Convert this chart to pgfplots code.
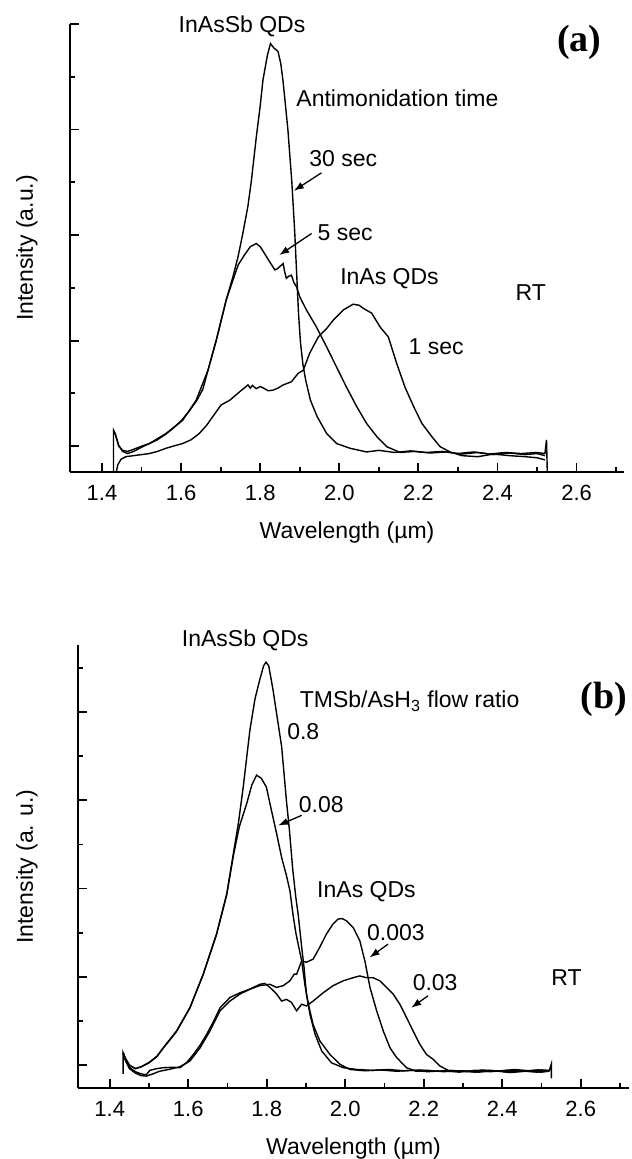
\documentclass[border=0pt]{standalone}
\usepackage{fontspec}
\setmainfont{Liberation Sans}
\newfontfamily\panelfont{Liberation Serif}
\usepackage{pgfplots}
\pgfplotsset{compat=1.18}
\usetikzlibrary{arrows.meta}

\pgfplotsset{
  pl/.style={
    scale only axis, axis lines=left, axis line style={-, line width=1.1pt},
    tick align=inside, tick style={black, line width=0.9pt},
    major tick length=4.6pt, minor tick length=2.6pt,
    xtick={1.4,1.6,1.8,2.0,2.2,2.4,2.6},
    xticklabels={1.4,1.6,1.8,2.0,2.2,2.4,2.6},
    minor xtick={1.5,1.7,1.9,2.1,2.3,2.5,2.7},
    ytick={0,2,4,6,8}, yticklabels={},
    xmin=1.319, clip=false,
    tick label style={font=\fontsize{11}{13}\selectfont},
    xticklabel style={yshift=-3pt},
    label style={font=\fontsize{11.5}{13}\selectfont},
    xlabel={Wavelength (µm)},
    xlabel style={at={(axis description cs:0.5,0)}, anchor=base, yshift=-33pt},
    every axis plot post/.append style={black, line width=0.7pt, mark=none},
  },
}
\tikzset{
  lab/.style={font=\fontsize{11.5}{13}\selectfont, text height=8.2pt, text depth=0pt, inner sep=0pt},
  arr/.style={-{Latex[length=5pt,width=3.6pt]}, line width=0.65pt},
}

\begin{document}
\begin{tikzpicture}
\useasboundingbox (0,0) rectangle (315.5pt,-579.5pt);

% (a) antimonidation time
\begin{axis}[pl, at={(35pt,-236pt)}, anchor=south west,
    width=277pt, height=224pt, xmax=2.72, ymin=-0.49, ymax=8,
    minor ytick={1,3,5,7},
    ylabel={Intensity (a.u.)},
    ylabel style={at={(axis description cs:-0.0668,0.5)}, anchor=base}]
  % 30 sec
  \addplot table {
    1.429 -0.49
    1.429 0.30
    1.434 0.22
    1.442 0.02
    1.452 -0.10
    1.465 -0.14
    1.48 -0.10
    1.50 -0.02
    1.52 0.05
    1.54 0.12
    1.56 0.22
    1.58 0.34
    1.60 0.48
    1.62 0.66
    1.64 0.87
    1.655 1.08
    1.668 1.44
    1.689 2.01
    1.714 2.77
    1.731 3.21
    1.744 3.59
    1.756 4.03
    1.769 4.55
    1.778 5.05
    1.790 5.85
    1.800 6.45
    1.807 6.94
    1.818 7.40
    1.826 7.63
    1.834 7.55
    1.845 7.48
    1.852 7.25
    1.858 6.90
    1.870 6.00
    1.880 5.00
    1.887 4.10
    1.892 3.30
    1.897 2.50
    1.902 1.95
    1.908 1.55
    1.915 1.25
    1.927 0.87
    1.944 0.56
    1.968 0.24
    1.993 0.05
    2.027 -0.04
    2.069 -0.11
    2.10 -0.08
    2.14 -0.12
    2.18 -0.09
    2.22 -0.12
    2.26 -0.10
    2.30 -0.14
    2.34 -0.11
    2.38 -0.15
    2.42 -0.12
    2.46 -0.14
    2.50 -0.12
    2.52 -0.14
    2.524 0.12
    2.526 -0.49
  };
  % 5 sec
  \addplot table {
    1.429 0.30
    1.434 0.22
    1.442 0.00
    1.452 -0.08
    1.465 -0.10
    1.48 -0.06
    1.50 0.00
    1.52 0.05
    1.562 0.24
    1.604 0.49
    1.638 0.87
    1.668 1.44
    1.689 2.01
    1.714 2.77
    1.744 3.43
    1.760 3.62
    1.775 3.78
    1.790 3.84
    1.800 3.78
    1.811 3.65
    1.825 3.48
    1.837 3.34
    1.843 3.36
    1.849 3.40
    1.858 3.46
    1.862 3.30
    1.866 3.18
    1.872 3.22
    1.879 3.24
    1.885 3.10
    1.892 3.02
    1.900 2.83
    1.917 2.58
    1.942 2.26
    1.968 1.88
    1.993 1.50
    2.018 1.12
    2.044 0.75
    2.069 0.43
    2.095 0.18
    2.12 -0.01
    2.154 -0.12
    2.19 -0.10
    2.23 -0.13
    2.27 -0.11
    2.31 -0.15
    2.35 -0.12
    2.39 -0.16
    2.43 -0.13
    2.47 -0.16
    2.50 -0.14
    2.52 -0.18
  };
  % 1 sec
  \addplot table {
    1.436 -0.49
    1.440 -0.35
    1.448 -0.25
    1.46 -0.20
    1.48 -0.18
    1.50 -0.16
    1.52 -0.14
    1.54 -0.10
    1.562 -0.04
    1.58 0.00
    1.604 0.05
    1.625 0.12
    1.646 0.24
    1.665 0.40
    1.680 0.56
    1.701 0.78
    1.723 0.87
    1.748 1.03
    1.769 1.16
    1.775 1.10
    1.780 1.15
    1.790 1.09
    1.800 1.13
    1.811 1.09
    1.820 1.05
    1.832 1.06
    1.845 1.10
    1.858 1.16
    1.879 1.22
    1.896 1.38
    1.909 1.44
    1.925 1.76
    1.947 2.07
    1.968 2.23
    1.985 2.39
    2.010 2.58
    2.035 2.69
    2.050 2.67
    2.061 2.61
    2.082 2.52
    2.103 2.26
    2.124 2.07
    2.145 1.57
    2.166 1.12
    2.188 0.75
    2.209 0.43
    2.234 0.18
    2.255 -0.01
    2.28 -0.11
    2.31 -0.18
    2.35 -0.20
    2.39 -0.15
    2.43 -0.18
    2.47 -0.20
    2.50 -0.22
    2.52 -0.26
  };
  \node[lab] at (axis cs:1.754,8.0) {InAsSb QDs};
  \node[lab] at (axis cs:2.147,6.59) {Antimonidation time};
  \node[lab] at (axis cs:2.010,5.45) {30 sec};
  \node[lab] at (axis cs:2.015,4.05) {5 sec};
  \node[lab] at (axis cs:2.127,3.21) {InAs QDs};
  \node[lab] at (axis cs:2.484,2.92) {RT};
  \node[lab] at (axis cs:2.245,1.90) {1 sec};
  \node[font=\panelfont\bfseries\fontsize{19}{21}\selectfont, inner sep=0pt] at (axis cs:2.607,7.65) {(a)};
  \draw[arr] (axis cs:1.955,5.18) -- (axis cs:1.885,4.84);
  \draw[arr] (axis cs:1.930,4.03) -- (axis cs:1.848,3.62);
\end{axis}

% (b) TMSb/AsH3 flow ratio
\begin{axis}[pl, at={(39pt,-544pt)}, anchor=south west,
    width=275.5pt, height=221.5pt, xmax=2.723, ymin=-0.52, ymax=9.52,
    minor ytick={1,3,5,7,9},
    ylabel={Intensity (a. u.)},
    ylabel style={at={(axis description cs:-0.0817,0.5)}, anchor=base}]
  % 0.8
  \addplot table {
    1.434 -0.20
    1.434 0.28
    1.440 0.15
    1.450 0.00
    1.465 -0.08
    1.48 -0.04
    1.50 0.06
    1.52 0.20
    1.536 0.39
    1.570 0.77
    1.604 1.30
    1.638 2.06
    1.672 2.97
    1.698 3.88
    1.715 4.80
    1.728 5.50
    1.740 6.30
    1.757 7.59
    1.770 8.30
    1.782 8.73
    1.792 9.05
    1.798 9.13
    1.805 9.05
    1.816 8.50
    1.825 7.97
    1.838 7.21
    1.850 6.00
    1.858 5.30
    1.866 4.45
    1.874 3.80
    1.880 3.42
    1.889 2.67
    1.895 2.21
    1.901 1.61
    1.910 1.15
    1.923 0.70
    1.940 0.32
    1.965 0.05
    1.995 -0.06
    2.03 -0.10
    2.07 -0.12
    2.11 -0.10
    2.15 -0.13
    2.19 -0.11
    2.23 -0.14
    2.27 -0.12
    2.31 -0.15
    2.35 -0.11
    2.39 -0.14
    2.43 -0.10
    2.47 -0.13
    2.50 -0.11
    2.52 -0.12
    2.525 0.02
    2.525 -0.30
  };
  % 0.08
  \addplot table {
    1.434 0.28
    1.440 0.15
    1.450 0.00
    1.465 -0.08
    1.48 -0.04
    1.50 0.05
    1.52 0.19
    1.536 0.38
    1.570 0.76
    1.604 1.29
    1.638 2.05
    1.672 2.96
    1.698 3.86
    1.715 4.75
    1.730 5.40
    1.749 5.93
    1.762 6.35
    1.774 6.57
    1.786 6.50
    1.799 6.30
    1.812 5.77
    1.825 5.25
    1.838 4.70
    1.850 4.30
    1.859 3.95
    1.867 3.40
    1.874 3.00
    1.880 2.74
    1.889 2.36
    1.897 1.83
    1.906 1.38
    1.918 0.92
    1.935 0.55
    1.961 0.24
    1.986 0.02
    2.012 -0.10
    2.05 -0.13
    2.09 -0.11
    2.13 -0.14
    2.17 -0.12
    2.21 -0.15
    2.25 -0.13
    2.29 -0.16
    2.33 -0.12
    2.37 -0.15
    2.41 -0.12
    2.45 -0.14
    2.49 -0.11
    2.52 -0.14
  };
  % 0.003
  \addplot table {
    1.434 0.28
    1.440 0.12
    1.450 -0.05
    1.465 -0.15
    1.480 -0.20
    1.493 -0.22
    1.502 -0.12
    1.52 -0.08
    1.536 -0.06
    1.56 -0.05
    1.579 -0.06
    1.595 0.05
    1.613 0.24
    1.630 0.45
    1.647 0.70
    1.665 1.00
    1.681 1.30
    1.706 1.53
    1.732 1.64
    1.757 1.72
    1.782 1.80
    1.808 1.83
    1.825 1.76
    1.842 1.80
    1.859 1.91
    1.870 2.06
    1.876 2.06
    1.889 2.36
    1.901 2.33
    1.918 2.40
    1.935 2.67
    1.952 2.97
    1.969 3.20
    1.982 3.31
    1.992 3.32
    2.003 3.27
    2.020 3.12
    2.037 2.82
    2.050 2.36
    2.063 1.76
    2.080 1.23
    2.097 0.77
    2.114 0.39
    2.131 0.17
    2.156 -0.06
    2.181 -0.14
    2.21 -0.12
    2.25 -0.15
    2.29 -0.13
    2.33 -0.16
    2.37 -0.12
    2.41 -0.15
    2.45 -0.13
    2.49 -0.16
    2.52 -0.13
  };
  % 0.03
  \addplot table {
    1.434 0.28
    1.440 0.10
    1.450 -0.08
    1.465 -0.18
    1.480 -0.24
    1.493 -0.25
    1.51 -0.20
    1.527 -0.14
    1.550 -0.10
    1.578 -0.04
    1.604 0.09
    1.630 0.39
    1.655 0.77
    1.681 1.23
    1.706 1.45
    1.732 1.61
    1.757 1.72
    1.782 1.83
    1.795 1.85
    1.808 1.76
    1.825 1.61
    1.838 1.45
    1.850 1.49
    1.863 1.42
    1.876 1.23
    1.889 1.38
    1.901 1.34
    1.918 1.45
    1.944 1.64
    1.969 1.80
    1.995 1.91
    2.020 1.98
    2.037 2.02
    2.054 1.98
    2.071 1.98
    2.088 1.91
    2.105 1.76
    2.122 1.61
    2.139 1.38
    2.156 1.08
    2.173 0.77
    2.190 0.47
    2.207 0.24
    2.224 0.13
    2.241 -0.02
    2.266 -0.14
    2.30 -0.13
    2.34 -0.16
    2.38 -0.13
    2.42 -0.17
    2.46 -0.14
    2.50 -0.16
    2.52 -0.14
  };
  \node[lab] at (axis cs:1.745,9.67) {InAsSb QDs};
  \node[lab] at (axis cs:2.164,8.29) {TMSb/AsH\textsubscript{3} flow ratio};
  \node[lab] at (axis cs:1.893,7.57) {0.8};
  \node[lab] at (axis cs:1.939,5.91) {0.08};
  \node[lab] at (axis cs:2.054,3.98) {InAs QDs};
  \node[lab] at (axis cs:2.129,3.01) {0.003};
  \node[lab] at (axis cs:2.564,2.00) {RT};
  \node[lab] at (axis cs:2.229,1.88) {0.03};
  \node[font=\panelfont\bfseries\fontsize{19}{21}\selectfont, inner sep=0pt] at (axis cs:2.659,8.29) {(b)};
  \draw[arr] (axis cs:1.889,5.66) -- (axis cs:1.829,5.43);
  \draw[arr] (axis cs:2.109,2.74) -- (axis cs:2.062,2.44);
  \draw[arr] (axis cs:2.211,1.57) -- (axis cs:2.168,1.30);
\end{axis}
\end{tikzpicture}
\end{document}
